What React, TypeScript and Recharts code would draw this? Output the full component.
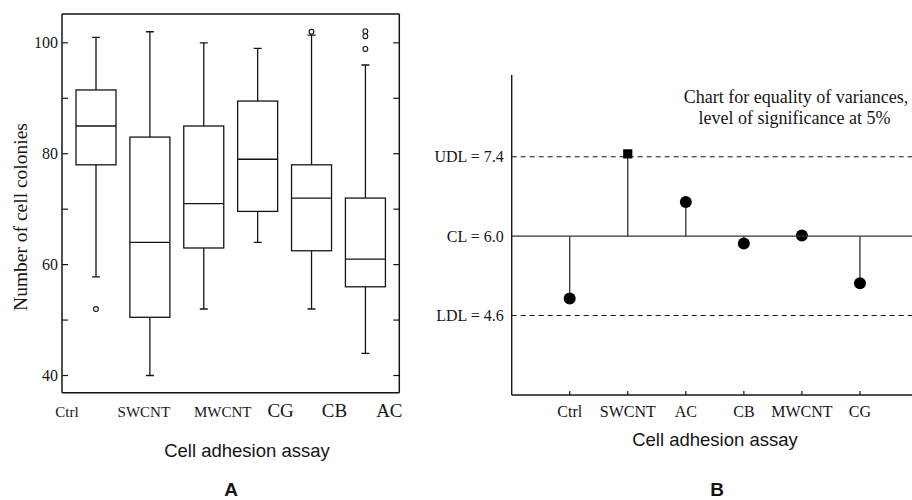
import React from "react";
import {
  ComposedChart,
  Bar,
  Line,
  XAxis,
  YAxis,
  ReferenceLine,
} from "recharts";

// panel A: box plots
const groupsA = ["Ctrl", "SWCNT", "MWCNT", "CG", "CB", "AC"];
const whiskerLow = [57.8, 40, 52, 64, 52, 44];
const lowerQuartile = [78, 50.5, 63, 69.6, 62.5, 56];
const medians = [85, 64, 71, 79, 72, 61];
const upperQuartile = [91.5, 83, 85, 89.5, 78, 72];
const whiskerHigh = [101, 102, 100, 99, 101.4, 96];
const outlierA = [52, null, null, null, 102, 102.1];
const outlierB = [null, null, null, null, null, 101.2];
const outlierC = [null, null, null, null, null, 98.9];
const ticksA = [40, 50, 60, 70, 80, 90, 100];
const domA = [36.9, 105.2];

// panel B: variance chart
const groupsB = ["Ctrl", "SWCNT", "AC", "CB", "MWCNT", "CG"];
const varianceStat = [4.9, 7.45, 6.6, 5.87, 6.01, 5.17];
const UDL = 7.4;
const CL = 6.0;
const LDL = 4.6;
const limitTicks = [LDL, CL, UDL];
const limitNames = ["LDL", "CL", "UDL"];
const domB = [3.2, 8.84];

// the original puts the A labels off-centre, sizes differ too
const labelShiftA = [-29, -6, 19, 23, 23, 24];
const labelSizeA = [15, 15, 15, 19, 19, 19];

const SERIF = '"Liberation Serif", "Times New Roman", serif';
const SANS = '"Liberation Sans", Arial, sans-serif';
const INK = "#151515";

const dataA = groupsA.map((name, i) => ({
  name,
  lo: whiskerLow[i],
  q1: lowerQuartile[i],
  med: medians[i],
  q3: upperQuartile[i],
  hi: whiskerHigh[i],
  o1: outlierA[i],
  o2: outlierB[i],
  o3: outlierC[i],
}));

const dataB = groupsB.map((name, i) => ({ name, v: varianceStat[i] }));

const BoxShape = (props: any) => {
  const { x, y, width, height, payload } = props;
  const { lo, q1, med, q3, hi } = payload;
  const k = height / (hi - lo);
  const py = (v: number) => y + (hi - v) * k;
  const cx = x + width / 2;
  const s = { stroke: INK, strokeWidth: 1.3 };
  return (
    <g>
      <line x1={cx} x2={cx} y1={py(hi)} y2={py(q3)} {...s} />
      <line x1={cx} x2={cx} y1={py(q1)} y2={py(lo)} {...s} />
      <line x1={cx - 4} x2={cx + 4} y1={py(hi)} y2={py(hi)} {...s} />
      <line x1={cx - 4} x2={cx + 4} y1={py(lo)} y2={py(lo)} {...s} />
      <rect x={x} y={py(q3)} width={width} height={py(q1) - py(q3)} fill="#fff" {...s} />
      <line x1={x} x2={x + width} y1={py(med)} y2={py(med)} {...s} />
    </g>
  );
};

const LeftTickA = (props: any) => {
  const { x, y, payload } = props;
  return (
    <g>
      <line x1={x} x2={x + 6} y1={y} y2={y} stroke={INK} strokeWidth={1.2} />
      {payload.value % 20 === 0 && (
        <text x={x - 4} y={y} dy={5.6} textAnchor="end" fontFamily={SERIF} fontSize={16} fill={INK}>
          {payload.value}
        </text>
      )}
    </g>
  );
};

const RightTickA = (props: any) => {
  const { x, y } = props;
  return <line x1={x - 6} x2={x} y1={y} y2={y} stroke={INK} strokeWidth={1.2} />;
};

const BottomTickA = (props: any) => {
  const { x, y, payload, index } = props;
  return (
    <text
      x={x + labelShiftA[index]}
      y={y + 24}
      textAnchor="middle"
      fontFamily={SERIF}
      fontSize={labelSizeA[index]}
      fill={INK}
    >
      {payload.value}
    </text>
  );
};

const Lollipop = (props: any) => {
  const { x, y, width, height, payload } = props;
  const cx = x + width / 2;
  const up = payload.v >= CL;
  const my = up ? y : y + height;
  const by = up ? y + height : y;
  const out = payload.v > UDL || payload.v < LDL;
  return (
    <g>
      <line x1={cx} x2={cx} y1={by} y2={my} stroke="#333" strokeWidth={1.3} />
      {out ? (
        <rect x={cx - 4.6} y={my - 4.6} width={9.2} height={9.2} fill="#000" />
      ) : (
        <circle cx={cx} cy={my} r={6} fill="#000" />
      )}
    </g>
  );
};

const LimitTick = (props: any) => {
  const { x, y, payload } = props;
  const i = limitTicks.indexOf(payload.value);
  return (
    <text x={x - 8} y={y} dy={5.5} textAnchor="end" fontFamily={SERIF} fontSize={16} fill={INK}>
      {`${limitNames[i]} = ${payload.value.toFixed(1)}`}
    </text>
  );
};

const BottomTickB = (props: any) => {
  const { x, y, payload } = props;
  return (
    <g>
      <line x1={x} x2={x} y1={y} y2={y - 4} stroke={INK} strokeWidth={1.2} />
      <text x={x} y={y + 21.7} textAnchor="middle" fontFamily={SERIF} fontSize={16} fill={INK}>
        {payload.value}
      </text>
    </g>
  );
};

export default function App() {
  return (
    <div style={{ position: "absolute", left: 0, top: 0, width: 912, height: 500, background: "#fff" }}>
      <div style={{ position: "absolute", left: 0, top: 0 }}>
        <ComposedChart
          width={420}
          height={500}
          data={dataA}
          margin={{ top: 14, right: 19.7, bottom: 77.3, left: 61 }}
        >
          <XAxis
            dataKey="name"
            type="category"
            padding={{ left: 7, right: 7 }}
            height={30}
            interval={0}
            axisLine={{ stroke: INK, strokeWidth: 1.5 }}
            tickLine={false}
            tickSize={0}
            tickMargin={0}
            tick={<BottomTickA />}
          />
          <YAxis
            yAxisId="l"
            type="number"
            domain={domA}
            ticks={ticksA}
            allowDataOverflow
            width={1}
            axisLine={{ stroke: INK, strokeWidth: 1.5 }}
            tickLine={false}
            tickSize={0}
            tickMargin={0}
            tick={<LeftTickA />}
          />
          <YAxis
            yAxisId="r"
            orientation="right"
            type="number"
            domain={domA}
            ticks={ticksA}
            allowDataOverflow
            width={1}
            axisLine={{ stroke: INK, strokeWidth: 1.5 }}
            tickLine={false}
            tickSize={0}
            tickMargin={0}
            tick={<RightTickA />}
          />
          <ReferenceLine yAxisId="l" y={domA[1]} stroke={INK} strokeWidth={1.5} />
          <Bar
            yAxisId="l"
            dataKey={(d: any) => [d.lo, d.hi]}
            barSize={40}
            shape={<BoxShape />}
            isAnimationActive={false}
          />
          {["o1", "o2", "o3"].map((k) => (
            <Line
              key={k}
              yAxisId="r"
              dataKey={k}
              stroke="none"
              dot={{ r: 2.4, fill: "#fff", stroke: INK, strokeWidth: 1.1 }}
              activeDot={false}
              isAnimationActive={false}
            />
          ))}
        </ComposedChart>
      </div>
      <div style={{ position: "absolute", left: 420, top: 0 }}>
        <ComposedChart
          width={492}
          height={500}
          data={dataB}
          margin={{ top: 75, right: 0, bottom: 75, left: 90.7 }}
        >
          <XAxis
            dataKey="name"
            type="category"
            padding={{ left: 29, right: 23 }}
            height={30}
            interval={0}
            axisLine={{ stroke: INK, strokeWidth: 1.4 }}
            tickLine={false}
            tickSize={0}
            tickMargin={0}
            tick={<BottomTickB />}
          />
          <YAxis
            type="number"
            domain={domB}
            ticks={limitTicks}
            allowDataOverflow
            width={1}
            axisLine={{ stroke: INK, strokeWidth: 1.4 }}
            tickLine={false}
            tickSize={0}
            tickMargin={0}
            tick={<LimitTick />}
          />
          <ReferenceLine y={UDL} stroke={INK} strokeWidth={1.1} strokeDasharray="5 4" />
          <ReferenceLine y={CL} stroke="#333" strokeWidth={1.4} />
          <ReferenceLine y={LDL} stroke={INK} strokeWidth={1.1} strokeDasharray="5 4" />
          <Bar
            dataKey={(d: any) => [Math.min(d.v, CL), Math.max(d.v, CL)]}
            barSize={10}
            shape={<Lollipop />}
            isAnimationActive={false}
          />
        </ComposedChart>
      </div>
      <svg
        width={912}
        height={500}
        style={{ position: "absolute", left: 0, top: 0, pointerEvents: "none" }}
      >
        <text
          transform="translate(27,217) rotate(-90)"
          textAnchor="middle"
          fontFamily={SERIF}
          fontSize={19.5}
          fill={INK}
        >
          Number of cell colonies
        </text>
        <text x={247} y={457} textAnchor="middle" fontFamily={SANS} fontSize={18.5} fill={INK}>
          Cell adhesion assay
        </text>
        <text x={231} y={496} textAnchor="middle" fontFamily={SANS} fontWeight="bold" fontSize={19} fill={INK}>
          A
        </text>
        <text x={796} y={103.3} textAnchor="middle" fontFamily={SERIF} fontSize={18} fill={INK}>
          Chart for equality of variances,
        </text>
        <text x={794.5} y={124} textAnchor="middle" fontFamily={SERIF} fontSize={18} fill={INK}>
          level of significance at 5%
        </text>
        <text x={715} y={446} textAnchor="middle" fontFamily={SANS} fontSize={18.5} fill={INK}>
          Cell adhesion assay
        </text>
        <text x={717} y={496} textAnchor="middle" fontFamily={SANS} fontWeight="bold" fontSize={19} fill={INK}>
          B
        </text>
      </svg>
    </div>
  );
}
